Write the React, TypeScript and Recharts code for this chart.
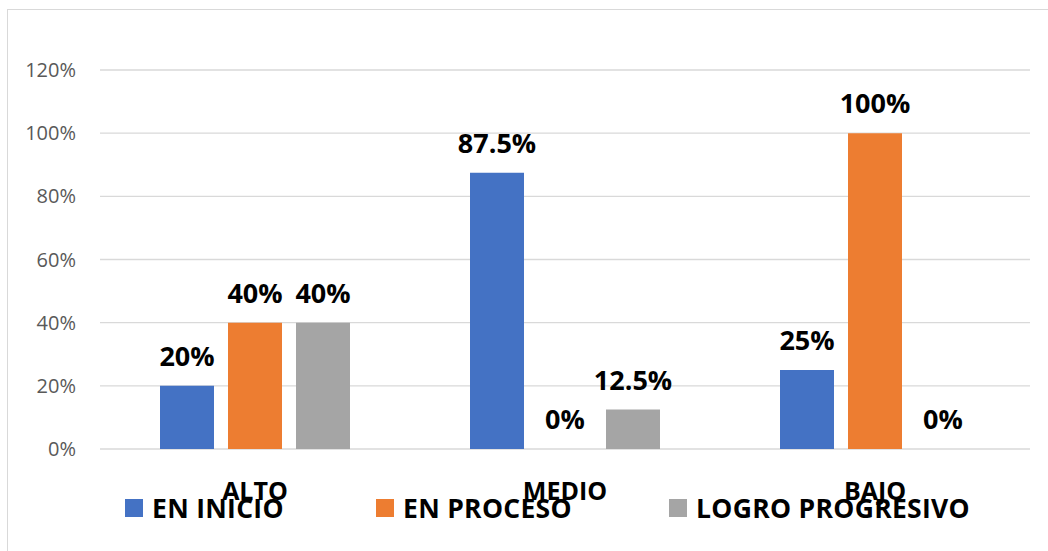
import { BarChart, Bar, XAxis, YAxis, CartesianGrid, Legend, LabelList } from 'recharts';

const categories = ['ALTO', 'MEDIO', 'BAJO'];
const enInicio = [20, 87.5, 25];
const enProceso = [40, 0, 100];
const logroProgresivo = [40, 12.5, 0];
const yTicks = [0, 20, 40, 60, 80, 100, 120];

const series = [
  { key: 'enInicio', name: 'EN INICIO', color: '#4472C4' },
  { key: 'enProceso', name: 'EN PROCESO', color: '#ED7D31' },
  { key: 'logroProgresivo', name: 'LOGRO PROGRESIVO', color: '#A5A5A5' },
];

const data = categories.map((cat, i) => ({
  cat,
  enInicio: enInicio[i],
  enProceso: enProceso[i],
  logroProgresivo: logroProgresivo[i],
}));

const FONT = '"Open Sans", "Noto Sans", sans-serif';
// legend slot widths, so each swatch lands where Excel put it
const legendSlots = [251, 293, 340];

const pct = (v: any) => `${v}%`;

const LegendContent = () => (
  <div style={{ display: 'flex', height: 34, alignItems: 'center', paddingLeft: 125, fontFamily: FONT }}>
    {series.map((s, i) => (
      <div key={s.key} style={{ width: legendSlots[i], display: 'flex', alignItems: 'center' }}>
        <span style={{ width: 18, height: 18, background: s.color, marginRight: 9, flex: 'none' }} />
        <span style={{ fontSize: 26.5, fontWeight: 700, color: '#000', whiteSpace: 'nowrap', lineHeight: '34px', letterSpacing: 0.3 }}>
          {s.name}
        </span>
      </div>
    ))}
  </div>
);

export default function App() {
  return (
    <div style={{ position: 'absolute', left: 0, top: 0, width: 1048, height: 551, overflow: 'hidden', background: '#fff' }}>
      <div style={{
        position: 'absolute', left: 7, top: 9, width: 1080, height: 600,
        border: '1.5px solid #d9d9d9', boxSizing: 'border-box',
      }} />
      <div style={{ position: 'absolute', left: 0, top: 0 }}>
        <BarChart
          width={1048}
          height={551}
          data={data}
          margin={{ top: 70, right: 18, bottom: 28, left: 0 }}
          barSize={54}
          barGap={14}
        >
          <CartesianGrid stroke="#d9d9d9" strokeWidth={1.3} vertical={false} />
          <XAxis
            dataKey="cat"
            axisLine={false}
            tickLine={false}
            tickSize={0}
            tickMargin={33}
            height={40}
            tick={{ fill: '#000', fontSize: 25, fontWeight: 700, fontFamily: FONT }}
          />
          <YAxis
            domain={[0, 120]}
            ticks={yTicks}
            tickFormatter={pct}
            axisLine={false}
            tickLine={false}
            tickSize={0}
            tickMargin={24}
            width={100}
            tick={{ fill: '#595959', fontSize: 20, fontFamily: FONT }}
          />
          <Legend
            verticalAlign="bottom"
            content={<LegendContent />}
            wrapperStyle={{ top: 491, bottom: 'auto', left: 0, width: 1048 }}
          />
          {series.map((s) => (
            <Bar key={s.key} dataKey={s.key} name={s.name} fill={s.color} minPointSize={0.01} isAnimationActive={false}>
              <LabelList
                dataKey={s.key}
                position="top"
                offset={20}
                formatter={pct}
                style={{ fill: '#000', fontSize: 27, fontWeight: 700, fontFamily: FONT }}
              />
            </Bar>
          ))}
        </BarChart>
      </div>
    </div>
  );
}
